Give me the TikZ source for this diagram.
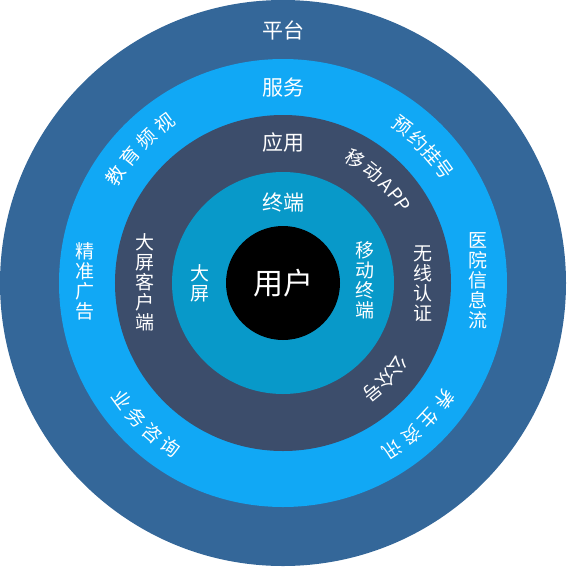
\documentclass[tikz,border=0pt]{standalone}
\usepackage{fontspec}
\setmainfont{Noto Sans CJK SC}
\definecolor{cplat}{RGB}{52,103,153}
\definecolor{cserv}{RGB}{17,168,245}
\definecolor{capp}{RGB}{60,77,107}
\definecolor{cterm}{RGB}{8,153,201}
\tikzset{
  head/.style={text=white,font=\fontsize{21}{21}\selectfont,inner sep=0pt},
  vtext/.style={text=white,font=\fontsize{19}{20}\selectfont,align=center,inner sep=0pt},
  arcch/.style={text=white,font=\fontsize{19}{19}\selectfont,inner sep=0pt},
}
\begin{document}
\begin{tikzpicture}[x=1pt,y=1pt]
\useasboundingbox (-283,-283) rectangle (284,283);
\fill[cplat] (0,0) circle (283);
\fill[cserv] (0,0) circle (224);
\fill[capp] (0,0) circle (168);
\fill[cterm] (0,0) circle (111);
\fill[black] (0,0) circle (57);
% headings
\node[head] (plat) at (0,253) {平台};
\node[head] (serv) at (0,195) {服务};
\node[head] (app) at (0,140) {应用};
\node[head] (term) at (0,80) {终端};
\node[text=white,font=\fontsize{30}{30}\selectfont,inner sep=0pt] (user) at (0,0) {用户};
% vertical texts
\node[vtext] (dp) at (-83,0) {大\\屏};
\node[vtext] (yd) at (82,3) {移\\动\\终\\端};
\node[vtext] (dpk) at (-138,1) {大\\屏\\客\\户\\端};
\node[vtext] (wx) at (140,-1) {无\\线\\认\\证};
\node[vtext] (jz) at (-198,2) {精\\准\\广\\告};
\node[vtext] (yy) at (195,2) {医\\院\\信\\息\\流};
% curved texts, clockwise, tops outward
\foreach \c/\a [count=\i] in {预/52.8,约/46.4,挂/40.7,号/35.2}
  \node[arcch,rotate=\a-90] (yg\i) at (\a:197) {\c};
\foreach \c/\a [count=\i] in {移/59.7,动/51,A/43.5,P/38,P/33}
  \node[arcch,rotate=\a-90] (ma\i) at (\a:143) {\c};
\foreach \c/\a [count=\i] in {教/147.5,育/140.5,频/133.5,视/126.5}
  \node[arcch,rotate=\a-90] (jy\i) at (\a:199) {\c};
\foreach \c/\a [count=\i] in {养/-35.8,生/-42.8,资/-49.8,讯/-56.8}
  \node[arcch,rotate=\a-90] (ys\i) at (\a:199) {\c};
\foreach \c/\a [count=\i] in {公/-35.5,众/-43,号/-50.5}
  \node[arcch,rotate=\a-90] (gz\i) at (\a:141) {\c};
% counterclockwise, tops inward
\foreach \c/\a [count=\i] in {业/-144,务/-137.5,咨/-131,询/-124.5}
  \node[arcch,rotate=\a+90] (yw\i) at (\a:199) {\c};
\end{tikzpicture}
\end{document}
